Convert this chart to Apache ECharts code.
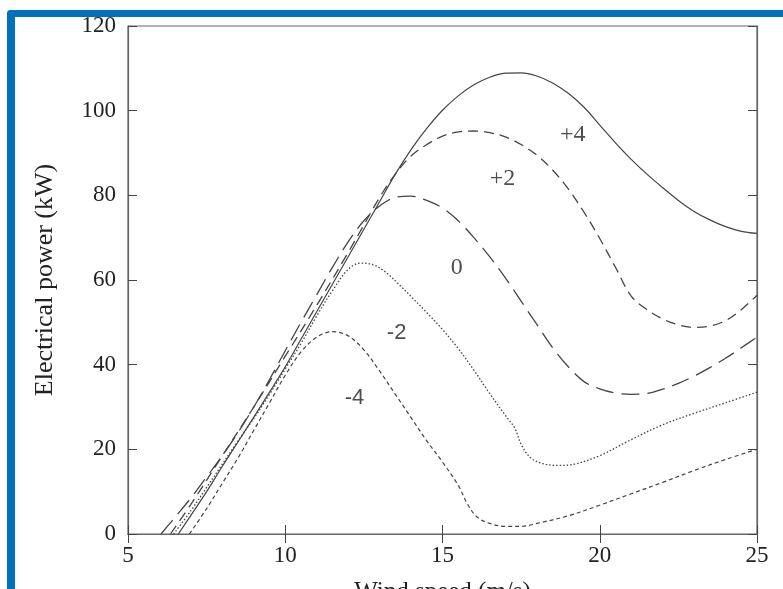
<!DOCTYPE html>
<html>
<head>
<meta charset="utf-8">
<script src="https://cdn.jsdelivr.net/npm/echarts@6/dist/echarts.min.js"></script>
<style>html,body{margin:0;padding:0;background:#fff;}#c{width:783px;height:589px;}</style>
</head>
<body>
<div id="c"></div>
<script>
// Pitch angle curves: wind speed (m/s) vs electrical power (kW)
const windP4  = [6.6,7,7.5,8,8.5,9,9.5,10,10.5,11,11.5,12,12.5,13,13.5,14,14.5,15,15.5,16,16.5,17,17.5,18,18.5,19,19.5,20,20.5,21,21.5,22,22.5,23,23.5,24,24.5,25];
const powerP4 = [0,4.4,10,16,21.8,27.6,33.5,39.5,46,52.5,59,65.5,72,78.5,85,90.8,95.8,100.1,103.5,106.1,107.9,108.85,108.95,108.2,106.55,104.1,100.8,96.6,92.4,88.5,85,81.8,78.8,76.2,74.2,72.6,71.5,71];

const windP2  = [6.35,7,8,9,10,11,12,12.5,13,13.5,14,14.5,15,15.5,16,16.5,17,17.5,18,18.5,19,19.5,20,20.5,21,21.5,22,22.5,23,23.5,24,24.5,25];
const powerP2 = [0,7,18.5,30,42,54,66.5,73,79.5,85,89.3,92,94,95,95.2,94.8,93.8,92,89.5,86,81.5,76,69.8,63,56.2,53,50.8,49.4,48.8,49.1,50.4,53,56.4];

const wind0  = [6.05,6.5,7,7.5,8,8.5,9,9.5,10,10.5,11,11.5,12,12.5,13,13.5,14,14.5,15,15.5,16,16.5,17,17.5,18,18.5,19,19.5,20,20.5,21,21.5,22,22.5,23,23.5,24,24.5,25];
const power0 = [0,4,8.5,13.5,18.5,24,30,36.5,43.3,50,56.5,63,69,74,77.5,79.5,79.8,78.8,77,74,70,65.5,60.5,55,49.5,44,39.5,36,34.3,33.3,33,33.2,34.2,35.6,37.3,39.3,41.5,44,46.5];

const windM2  = [6.45,7,7.5,8,8.5,9,9.5,10,10.5,11,11.5,12,12.4,12.8,13.2,13.65,14,14.5,15,15.5,16,16.5,17,17.3,17.5,17.8,18.2,18.7,19.2,20,21,22,23,24,25];
const powerM2 = [0,5.5,11,16.5,22,27.3,33,39,45,51.5,57.5,62.5,64,63.6,61.8,58.7,56.1,52.3,48.3,43.8,38.7,33.2,28,25,21.2,18,16.6,16.2,16.5,18.5,22.3,25.8,28.5,31,33.5];

const windM4  = [6.95,7.5,8,8.5,9,9.5,10,10.5,11,11.5,12,12.5,13,13.5,14,14.5,15,15.5,15.8,16.1,16.5,17,17.5,18,19,20,21,22,23,24,25];
const powerM4 = [0,6,12,18,24.5,31,37.5,43,46.5,47.8,46.8,43.5,38.5,33,27.5,22,17,11.5,7,4,2.5,1.8,1.8,2.5,4.3,6.8,9.5,12.2,15,17.6,20];

const curveNames = ['+4','+2','0','-2','-4'];
const labelWind  = [19.14,16.91,15.45,13.54,12.2];
const labelPower = [94.4,84.0,63.0,47.6,32.2];

const xTicks = [5,10,15,20,25];
const yTicks = [0,20,40,60,80,100,120];

const zip = (a,b) => a.map((v,i)=>[v,b[i]]);
const lineCol = '#444';
const serif = 'Liberation Serif';

const chart = echarts.init(document.getElementById('c'), null, {renderer:'canvas'});

function mkLine(name, xs, ys, type, width) {
  return {
    name, type:'line', data: zip(xs,ys), smooth: 0.35, showSymbol:false, symbol:'none',
    lineStyle:{color:lineCol, width: width||1.1, type}, xAxisIndex:0, yAxisIndex:0, z:3,
    silent:true
  };
}

const labelFonts = [serif, serif, serif, 'Liberation Sans', 'Liberation Sans'];
const labelSizes = [24, 24, 24, 22, 22];

const option = {
  backgroundColor:'#fff',
  animation:false,
  grid:{left:128, right:26, top:26, bottom:55, show:true, borderColor:'#666', borderWidth:1.2, outerBoundsMode:'none', containLabel:false},
  xAxis:[{
    type:'value', min:xTicks[0], max:xTicks[xTicks.length-1], interval:5,
    name:'Wind speed (m/s)', nameLocation:'middle', nameGap:46,
    nameTextStyle:{fontFamily:serif, fontSize:25, color:'#222'},
    axisLine:{show:true, lineStyle:{color:'#666', width:1.2}},
    axisTick:{show:true, inside:true, length:9, lineStyle:{color:'#444'}},
    axisLabel:{fontFamily:serif, fontSize:23, color:'#222', margin:10},
    splitLine:{show:false}
  },{
    type:'value', position:'top', min:5, max:25, interval:5,
    axisLine:{show:true, lineStyle:{color:'#666', width:1.2}},
    axisTick:{show:true, inside:true, length:9, lineStyle:{color:'#444'}},
    axisLabel:{show:false}, splitLine:{show:false}
  }],
  yAxis:[{
    type:'value', min:yTicks[0], max:yTicks[yTicks.length-1], interval:20,
    name:'Electrical power (kW)', nameLocation:'middle', nameGap:70, nameRotate:90,
    nameTextStyle:{fontFamily:serif, fontSize:26, color:'#222'},
    axisLine:{show:true, lineStyle:{color:'#666', width:1.2}},
    axisTick:{show:true, inside:true, length:9, lineStyle:{color:'#444'}},
    axisLabel:{fontFamily:serif, fontSize:23, color:'#222', margin:12},
    splitLine:{show:false}
  },{
    type:'value', position:'right', min:0, max:120, interval:20,
    axisLine:{show:true, lineStyle:{color:'#666', width:1.2}},
    axisTick:{show:true, inside:true, length:9, lineStyle:{color:'#444'}},
    axisLabel:{show:false}, splitLine:{show:false}
  }],
  series:[
    mkLine('+4', windP4, powerP4, 'solid', 1.2),
    mkLine('+2', windP2, powerP2, [10,6], 1.3),
    mkLine('0', wind0, power0, [18,8], 1.3),
    mkLine('-2', windM2, powerM2, [1.5,2], 1.3),
    mkLine('-4', windM4, powerM4, [4,3], 1.2),
    {
      type:'scatter', symbolSize:0, silent:true,
      data: curveNames.map((n,i)=>({value:[labelWind[i], labelPower[i]],
        label:{show:true, formatter:n, position:'inside', fontFamily:labelFonts[i], fontSize:labelSizes[i], color:'#222'}}))
    }
  ],
  graphic:[
    {type:'rect', shape:{x:7, y:10, width:776, height:7, r:[4,0,0,0]}, style:{fill:'#0071BC'}, z:100},
    {type:'rect', shape:{x:7, y:10, width:8, height:579, r:[4,0,0,0]}, style:{fill:'#0071BC'}, z:100}
  ]
};
chart.setOption(option);
</script>
</body>
</html>
